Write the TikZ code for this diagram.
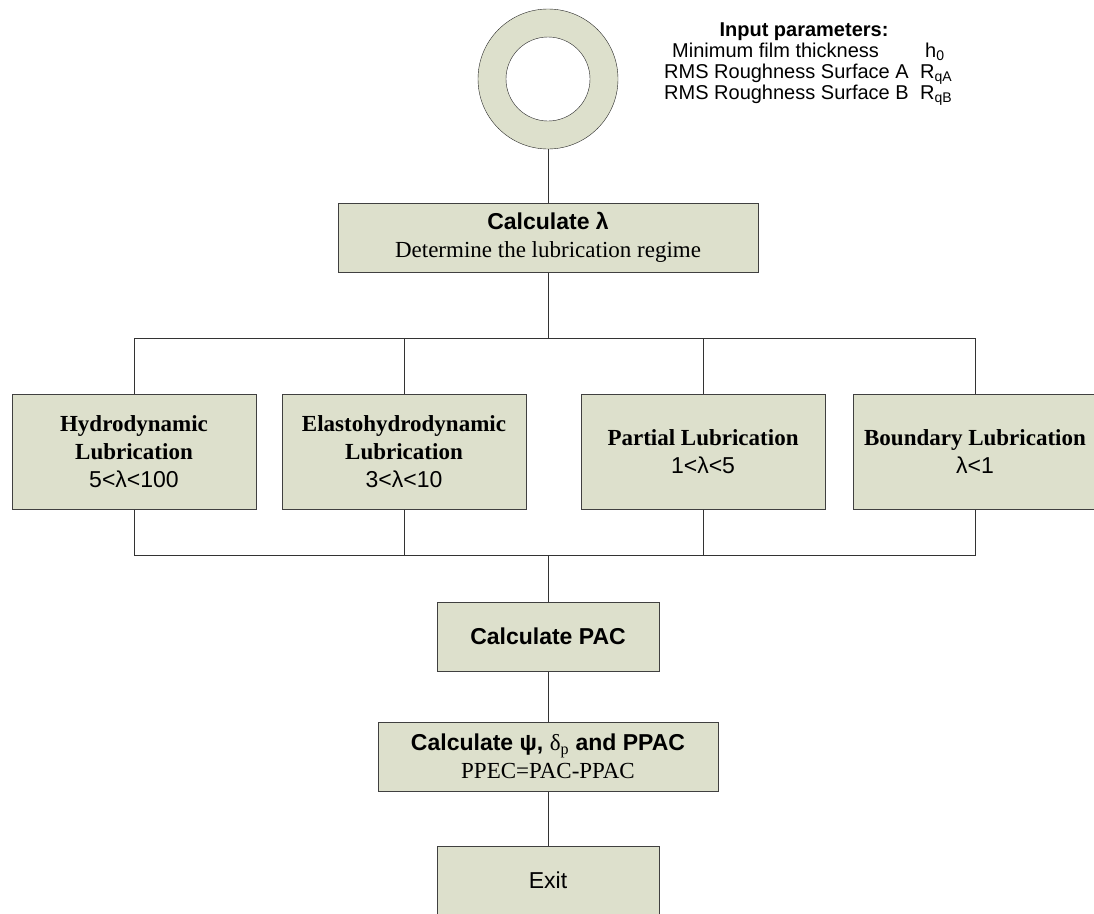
\documentclass[tikz,border=0pt]{standalone}
\usepackage{fontspec}
\setmainfont{Liberation Serif}
\setsansfont{Liberation Sans}
\usetikzlibrary{shapes.geometric}
\definecolor{sage}{RGB}{221,224,204}
\tikzstyle{ring} = [circle, minimum size=140pt, inner sep=0pt, draw=black!85, fill=sage]
\tikzstyle{hole} = [circle, minimum size=84pt, inner sep=0pt, draw=black!85, fill=white]
\tikzstyle{calc} = [rectangle, minimum height=69pt, text centered, align=center, draw=black!75, line width=1pt, fill=sage, inner sep=2pt]
\tikzstyle{regime} = [rectangle, minimum width=244pt, minimum height=115pt, text centered, align=center, draw=black!75, line width=1pt, fill=sage, inner sep=2pt, font=\fontsize{23}{28}\selectfont\rmfamily\bfseries]
\tikzstyle{param} = [anchor=base west, inner sep=0pt, font=\fontsize{20}{24}\selectfont\sffamily]
\tikzstyle{line} = [draw=black!80, line width=0.9pt]

\begin{document}
\begin{tikzpicture}[x=1pt, y=-1pt, font=\fontsize{23}{28}\selectfont]
	\useasboundingbox (0,0) rectangle (1094,913);
	\node (start) [ring] at (548,79) {};
	\node (ringhole) [hole] at (start) {};
	\node (inp) [anchor=base, inner sep=0pt, font=\fontsize{20}{24}\selectfont\sffamily\bfseries] at (804,36) {Input parameters:};
	\node (p1) [param] at (672,57) {Minimum film thickness};
	\node (p1s) [param] at (925,57) {h\textsubscript{0}};
	\node (p2) [param] at (664,78) {RMS Roughness Surface A};
	\node (p2s) [param] at (920,78) {R\textsubscript{qA}};
	\node (p3) [param] at (664,99) {RMS Roughness Surface B};
	\node (p3s) [param] at (920,99) {R\textsubscript{qB}};
	\node (lambda) [calc, minimum width=420pt] at (548,237.5) {{\sffamily\bfseries Calculate λ}\\Determine the lubrication regime};
	\node (hydro) [regime] at (134,451.5) {Hydrodynamic\\Lubrication\\{\sffamily\mdseries 5<λ<100}};
	\node (elasto) [regime] at (404,451.5) {Elastohydrodynamic\\Lubrication\\{\sffamily\mdseries 3<λ<10}};
	\node (partial) [regime] at (703,451.5) {Partial Lubrication\\{\sffamily\mdseries 1<λ<5}};
	\node (boundary) [regime] at (975,451.5) {Boundary Lubrication\\{\sffamily\mdseries λ<1}};
	\node (pac) [calc, minimum width=222pt, font=\fontsize{23}{28}\selectfont\sffamily\bfseries] at (548,636.5) {Calculate PAC};
	\node (ppac) [calc, minimum width=340pt] at (548,756.5) {{\sffamily\bfseries Calculate ψ, {\rmfamily\mdseries δ\textsubscript{p}} and PPAC}\\PPEC=PAC-PPAC};
	\node (exit) [calc, minimum width=222pt, font=\fontsize{23}{28}\selectfont\sffamily] at (548,880.5) {Exit};
	\coordinate (split) at (548,338);
	\coordinate (merge) at (548,555);
	\draw [line] (start) -- (lambda);
	\draw [line] (lambda) -- (split);
	\draw [line] (hydro.north) -- (hydro.north |- split) -- (boundary.north |- split) -- (boundary.north);
	\draw [line] (elasto.north) -- (elasto.north |- split);
	\draw [line] (partial.north) -- (partial.north |- split);
	\draw [line] (hydro.south) -- (hydro.south |- merge) -- (boundary.south |- merge) -- (boundary.south);
	\draw [line] (elasto.south) -- (elasto.south |- merge);
	\draw [line] (partial.south) -- (partial.south |- merge);
	\draw [line] (merge) -- (pac);
	\draw [line] (pac) -- (ppac);
	\draw [line] (ppac) -- (exit);
\end{tikzpicture}
\end{document}
